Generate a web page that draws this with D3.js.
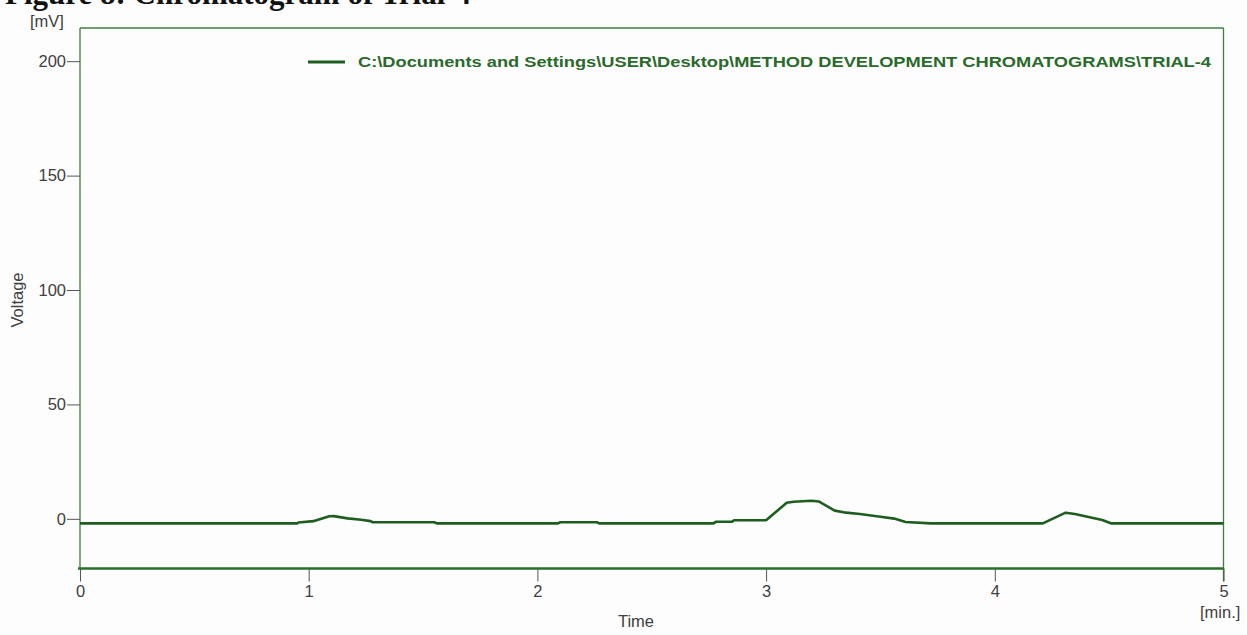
<!DOCTYPE html>
<html>
<head>
<meta charset="utf-8">
<script src="https://cdn.jsdelivr.net/npm/d3@7"></script>
<style>
html,body{margin:0;padding:0;background:#fdfdfd;overflow:hidden;}
svg{display:block;}
</style>
</head>
<body>
<svg id="chart" width="1247" height="635"></svg>
<script>
// ---- data ----
const titleText = "Figure 8: Chromatogram of Trial-4";
const legendLabel = "C:\\Documents and Settings\\USER\\Desktop\\METHOD DEVELOPMENT CHROMATOGRAMS\\TRIAL-4";
const xTicks = [0, 1, 2, 3, 4, 5];
const yTicks = [0, 50, 100, 150, 200];
const timeMin = [0, 0.95, 0.955, 1.02, 1.09, 1.11, 1.17, 1.23, 1.27, 1.28, 1.55, 1.56, 2.09, 2.10, 2.26, 2.27, 2.77, 2.78, 2.85, 2.86, 3.0, 3.09, 3.12, 3.20, 3.23, 3.30, 3.35, 3.41, 3.50, 3.56, 3.61, 3.72, 4.21, 4.31, 4.35, 4.42, 4.47, 4.51, 5.0];
const voltageMV = [-2, -2, -1.6, -1.0, 1.1, 1.2, 0.2, -0.4, -1.0, -1.5, -1.5, -2, -2, -1.5, -1.5, -2, -2, -1.3, -1.3, -0.6, -0.6, 7.0, 7.5, 7.9, 7.6, 3.6, 2.7, 2.1, 0.9, 0.1, -1.4, -2, -2, 2.7, 2.1, 0.6, -0.5, -2, -2];

(function () {
// ---- layout ----
const svg = d3.select("#chart");
const pL = 80, pR = 1223.5, pT = 28, pB = 568.5;
const x = d3.scaleLinear().domain([0, 5]).range([pL, pR]);
const y = d3.scaleLinear().domain([-21.7, 214.5]).range([pB, pT]);

const font = "'Liberation Sans', Arial, sans-serif";
const textGray = "#404040";
const fs = 16.5;

// title (cut off at top in the reference)
svg.append("text")
  .attr("x", 5).attr("y", 4)
  .attr("font-family", "'Liberation Serif', 'Times New Roman', serif")
  .attr("font-weight", "bold").attr("font-size", 31)
  .attr("fill", "#111")
  .text(titleText);

// frame: left, top, right thin lines
const frameColor = "#3f7f3f";
svg.append("line").attr("x1", pL).attr("x2", pL).attr("y1", pT).attr("y2", pB)
  .attr("stroke", frameColor).attr("stroke-width", 1.3);
svg.append("line").attr("x1", pL).attr("x2", pR).attr("y1", pT).attr("y2", pT)
  .attr("stroke", frameColor).attr("stroke-width", 1.3);
svg.append("line").attr("x1", pR).attr("x2", pR).attr("y1", pT).attr("y2", pB + 13)
  .attr("stroke", frameColor).attr("stroke-width", 1.3);

// y axis
const yAxis = d3.axisLeft(y).tickValues(yTicks).tickFormat(d3.format("d")).tickSize(13).tickPadding(1);
const gy = svg.append("g").attr("transform", `translate(${pL},0)`).call(yAxis);
gy.select(".domain").remove();
gy.selectAll(".tick line").attr("stroke", "#555").attr("stroke-width", 1);
gy.selectAll(".tick text").attr("font-family", font).attr("font-size", fs).attr("fill", textGray);

// x axis
const xAxis = d3.axisBottom(x).tickValues(xTicks).tickFormat(d3.format("d")).tickSize(13).tickPadding(4);
const gx = svg.append("g").attr("transform", `translate(0,${pB})`).call(xAxis);
gx.select(".domain").remove();
gx.selectAll(".tick line").attr("stroke", "#555").attr("stroke-width", 1);
gx.selectAll(".tick text").attr("font-family", font).attr("font-size", fs).attr("fill", textGray);

// bottom thick line
svg.append("line").attr("x1", pL - 2).attr("x2", pR).attr("y1", pB).attr("y2", pB)
  .attr("stroke", "#2b6e2b").attr("stroke-width", 2.5);

// axis labels
svg.append("text").attr("x", 47).attr("y", 27).attr("text-anchor", "middle")
  .attr("font-family", font).attr("font-size", fs).attr("fill", textGray).text("[mV]");
svg.append("text").attr("transform", "translate(23,300) rotate(-90)").attr("text-anchor", "middle")
  .attr("font-family", font).attr("font-size", fs).attr("fill", textGray).text("Voltage");
svg.append("text").attr("x", 636).attr("y", 627).attr("text-anchor", "middle")
  .attr("font-family", font).attr("font-size", fs).attr("fill", textGray).text("Time");
svg.append("text").attr("x", 1200).attr("y", 618)
  .attr("font-family", font).attr("font-size", fs).attr("fill", textGray).text("[min.]");

// data line
const lineColor = "#1d5e1f";
const pts = timeMin.map((t, i) => [t, voltageMV[i]]);
svg.append("path")
  .datum(pts)
  .attr("fill", "none")
  .attr("stroke", lineColor)
  .attr("stroke-width", 2.6)
  .attr("stroke-linejoin", "round")
  .attr("d", d3.line().x(d => x(d[0])).y(d => y(d[1])));

// legend
svg.append("line").attr("x1", 308).attr("x2", 345).attr("y1", 62).attr("y2", 62)
  .attr("stroke", lineColor).attr("stroke-width", 3);
svg.append("text").attr("x", 358).attr("y", 67)
  .attr("font-family", font).attr("font-size", 14).attr("font-weight", "bold")
  .attr("fill", "#2a6a2a")
  .attr("textLength", 853).attr("lengthAdjust", "spacingAndGlyphs")
  .text(legendLabel);
})();
</script>
</body>
</html>
